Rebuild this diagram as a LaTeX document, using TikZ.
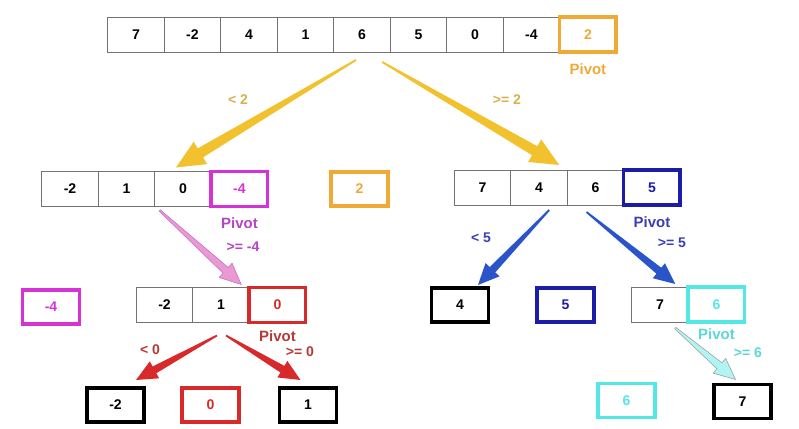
\documentclass[tikz,border=0pt]{standalone}
\usepackage{fontspec}
\setmainfont{Liberation Sans}
\usetikzlibrary{positioning,calc}
\definecolor{pivgold}{HTML}{EFA935}
\definecolor{arrgold}{HTML}{F2C12E}
\definecolor{txtgold}{HTML}{D8B050}
\definecolor{pivmag}{HTML}{D633D6}
\definecolor{txtmag}{HTML}{B545C5}
\definecolor{pivnavy}{HTML}{1C1CA8}
\definecolor{arrblue}{HTML}{2A55C8}
\definecolor{txtblue}{HTML}{3A40B0}
\definecolor{pivred}{HTML}{D82A2A}
\definecolor{txtred}{HTML}{B83838}
\definecolor{pivcyan}{HTML}{55E6E6}
\definecolor{txtcyan}{HTML}{5CD6D6}
\definecolor{arrpink}{HTML}{EA9AD0}
% tapered wedge arrow: [scale]{style}{from}{to}
\newcommand{\taperarr}[4][1]{%
  \coordinate (ta) at #3;
  \coordinate (tb) at #4;
  \coordinate (th) at ($(tb)!#1*12pt!(ta)$);
  \path[#2] ($(ta)!0.5pt!90:(tb)$) -- ($(th)!#1*2.2pt!90:(tb)$) -- ($(th)!#1*5.5pt!90:(tb)$)
    -- (tb) -- ($(th)!#1*5.5pt!-90:(tb)$) -- ($(th)!#1*2.2pt!-90:(tb)$) -- ($(ta)!0.5pt!-90:(tb)$) -- cycle;}

\begin{document}
\begin{tikzpicture}[x=0.02cm, y=-0.02cm,
    cell/.style={rectangle, draw=black!55, minimum width=1.13cm, minimum height=0.7cm,
                 inner sep=0pt, outer sep=0pt, font=\bfseries\fontsize{8}{10}\selectfont},
    pivcell/.style={cell, draw=#1, line width=2pt, text=#1},
    leaf/.style={cell, draw=#1, line width=2pt, text=#1, minimum width=1.14cm, minimum height=0.68cm},
    tag/.style={font=\bfseries\fontsize{8.5}{10}\selectfont, text=#1},
    cond/.style={font=\bfseries\fontsize{8}{10}\selectfont, text=#1}
]
    \useasboundingbox (0,0) rectangle (799,429);

    % top array
    \node[cell] (t1) at (136,34.5) {7};
    \node[cell, right=0pt of t1] (t2) {-2};
    \node[cell, right=0pt of t2] (t3) {4};
    \node[cell, right=0pt of t3] (t4) {1};
    \node[cell, right=0pt of t4] (t5) {6};
    \node[cell, right=0pt of t5] (t6) {5};
    \node[cell, right=0pt of t6] (t7) {0};
    \node[cell, right=0pt of t7] (t8) {-4};
    \node[pivcell=pivgold, right=0pt of t8] (t9) {2};
    \node[tag=pivgold, below=3pt of t9] (p0) {Pivot};

    % second level
    \node[cell] (l1) at (70,189) {-2};
    \node[cell, right=0pt of l1] (l2) {1};
    \node[cell, right=0pt of l2] (l3) {0};
    \node[pivcell=pivmag, right=0pt of l3] (l4) {-4};
    \node[tag=txtmag, below=3pt of l4] (p1) {Pivot};

    \node[leaf=pivgold] (m2) at (359.5,189) {2};

    \node[cell] (r1) at (482.5,187.5) {7};
    \node[cell, right=0pt of r1] (r2) {4};
    \node[cell, right=0pt of r2] (r3) {6};
    \node[pivcell=pivnavy, right=0pt of r3] (r4) {5};
    \node[tag=txtblue, below=3pt of r4] (p2) {Pivot};

    % third level
    \node[leaf=pivmag] (ll) at (51,307) {-4};
    \node[cell] (lm1) at (164.5,305) {-2};
    \node[cell, right=0pt of lm1] (lm2) {1};
    \node[pivcell=pivred, right=0pt of lm2] (lm3) {0};
    \node[tag=txtred, below=1pt of lm3] (p3) {Pivot};

    \node[leaf=black] (rl) at (460,305) {4};
    \node[leaf=pivnavy] (rm) at (565.5,305) {5};
    \node[cell] (rr1) at (660,304.5) {7};
    \node[pivcell=pivcyan, right=0pt of rr1] (rr2) {6};
    \node[tag=txtcyan, below=0pt of rr2] (p4) {Pivot};

    % fourth level
    \node[leaf=black] (a1) at (115.5,405) {-2};
    \node[leaf=pivred] (a2) at (210.5,405) {0};
    \node[leaf=black] (a3) at (308,405) {1};
    \node[leaf=pivcyan] (b1) at (626.5,400.5) {6};
    \node[leaf=black] (b2) at (742.5,401.5) {7};

    % partition arrows
    \taperarr[1.35]{fill=arrgold}{($(t5.south)+(-6,8)$)}{($(l3.north)+(-7,-4)$)}
    \taperarr[1.35]{fill=arrgold}{($(t5.south east)+(-8,10)$)}{($(r2.north east)+(-8,-5)$)}
    \taperarr{fill=arrpink, draw=txtmag!80, line width=0.3pt}{($(l3.south west)+(5,4)$)}{($(lm3.north west)+(-8,-3)$)}
    \taperarr{fill=arrblue}{($(r3.south west)+(-18,5)$)}{($(rl.north)+(18,-3)$)}
    \taperarr{fill=arrblue}{($(r3.south)+(-9,7)$)}{($(rr1.north east)+(-13,-3)$)}
    \taperarr{fill=pivred}{($(lm2.south)+(-4,13)$)}{($(a1.north east)+(-8,-8)$)}
    \taperarr{fill=pivred}{($(lm2.south)+(5,13)$)}{($(a3.north west)+(21,-8)$)}
    \taperarr{fill=pivcyan!45, draw=black!40, line width=0.3pt}{($(rr1.south east)+(-13,6)$)}{($(b2.north)+(-7,-5)$)}

    % conditions
    \node[cond=txtgold] (c1) at (238,100) {< 2};
    \node[cond=txtgold] (c2) at (507,100) {>= 2};
    \node[cond=txtmag] (c3) at (243,247) {>= -4};
    \node[cond=txtblue] (c4) at (481,238) {< 5};
    \node[cond=txtblue] (c5) at (672,243) {>= 5};
    \node[cond=txtred] (c6) at (150,350) {< 0};
    \node[cond=txtred] (c7) at (300,352) {>= 0};
    \node[cond=txtcyan] (c8) at (748,353) {>= 6};
\end{tikzpicture}
\end{document}
